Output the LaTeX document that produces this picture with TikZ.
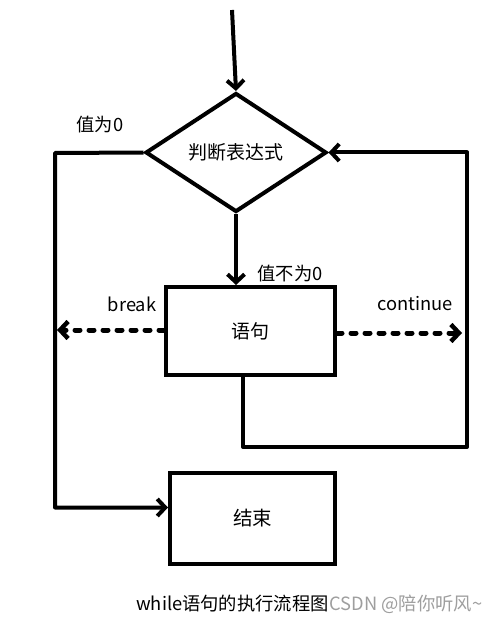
\documentclass[tikz,border=0pt]{standalone}
\usepackage{fontspec}
\setmainfont{Noto Sans CJK SC}
\usetikzlibrary{arrows.meta,shapes.geometric}
\begin{document}
\begin{tikzpicture}[x=1pt,y=-1pt,
  line/.style={line width=4pt,line join=round},
  arr/.style={line,-{Straight Barb[length=8pt,width=17pt,line width=4pt]}},
  darr/.style={line,line width=5pt,-{Straight Barb[length=8pt,width=17pt,line width=4.5pt]},line cap=round,dash pattern=on 5pt off 9pt},
  box/.style={draw,line width=4pt,rectangle,inner sep=0pt},
  lab/.style={inner sep=0pt,font=\fontsize{18.3}{20}\selectfont}]
\useasboundingbox (0,0) rectangle (501,620);
\node[draw,line width=4pt,diamond,aspect=1.52,inner sep=0pt,minimum width=181pt,minimum height=119pt,font=\fontsize{19}{21}\selectfont] (dia) at (236,152.5) {判断表达式};
\node[box,minimum width=169pt,minimum height=88pt,font=\fontsize{19}{21}\selectfont] (stmt) at (250.5,331) {语句};
\node[box,minimum width=165pt,minimum height=91pt,font=\fontsize{19.5}{21}\selectfont] (end) at (252.5,518.5) {结束};
\coordinate (top) at (232,10);
\coordinate (lx) at (55,153);
\coordinate (rb) at (467,447);
\coordinate (bk) at (57,330);
\coordinate (ct) at (462,333);
\draw[arr] (top) -- (dia.north);
\draw[arr] (dia.west) -- (lx) |- ([yshift=11pt]end.west);
\draw[arr] (dia.south) -- (dia.south |- stmt.north);
\draw[arr] ([xshift=-7.5pt]stmt.south) |- (rb) |- (dia.east);
\draw[darr] ([yshift=1pt]stmt.west) -- (bk);
\draw[darr] ([yshift=-2pt]stmt.east) -- (ct);
\node[lab] (l0) at (100,125) {值为0};
\node[lab] (l1) at (290,274) {值不为0};
\node[lab] (lb) at (132,304) {break};
\node[lab] (lc) at (415,304) {continue};
\node[lab] (cap) at (232.5,604) {while语句的执行流程图};
\node[lab,text=black!38] (wm) at (406,604) {CSDN @陪你听风\textasciitilde};
\end{tikzpicture}
\end{document}
